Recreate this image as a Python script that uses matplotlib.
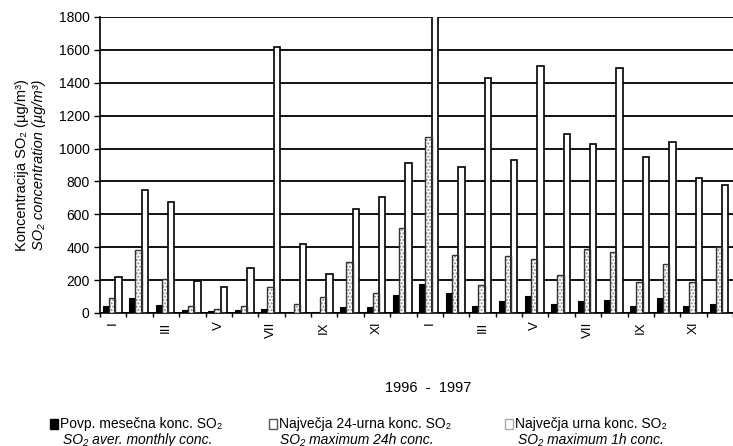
import matplotlib
matplotlib.use("Agg")
import matplotlib.pyplot as plt
from matplotlib.patches import Rectangle
import numpy as np

plt.rcParams['font.family'] = ['Liberation Sans', 'DejaVu Sans']

months = ['I', 'II', 'III', 'IV', 'V', 'VI', 'VII', 'VIII', 'IX', 'X', 'XI', 'XII'] * 2
tick_labels = [m if i % 2 == 0 else '' for i, m in enumerate(months)]
avg_monthly = [43, 93, 47, 16, 10, 16, 24, 6, 6, 38, 38, 108,
               177, 124, 43, 73, 106, 55, 70, 77, 41, 91, 41, 57]
max_24h = [89, 383, 205, 43, 26, 40, 160, 55, 95, 313, 120, 515,
           1070, 353, 170, 347, 331, 231, 390, 371, 190, 298, 190, 400]
max_1h = [221, 750, 675, 197, 160, 276, 1620, 418, 237, 630, 705, 915,
          1900, 888, 1430, 930, 1500, 1090, 1025, 1490, 950, 1040, 820, 780]
yticks = [0, 200, 400, 600, 800, 1000, 1200, 1400, 1600, 1800]

W, H = 733, 446
fig = plt.figure(figsize=(W / 100, H / 100), dpi=100)
ax = fig.add_axes([100 / W, (H - 313) / H, 1 - 100 / W, (313 - 17) / H])

x = np.arange(len(months))
bw = 0.24
ax.bar(x - 0.27, avg_monthly, bw, color='black', edgecolor='black', linewidth=0.8, zorder=3)
ax.bar(x - 0.04, max_24h, bw, color='white', edgecolor='#8a8a8a', hatch='.....', linewidth=0, zorder=3)
ax.bar(x - 0.04, max_24h, bw, facecolor='none', edgecolor='#333333', linewidth=1.0, zorder=3.5)
ax.bar(x + 0.2, max_1h, bw, color='white', edgecolor='black', linewidth=1.2, zorder=3)

ax.set_ylim(0, 1800)
ax.set_xlim(-0.5, (W - 100) / 26.5 - 0.5)
ax.set_yticks(yticks)
ax.set_yticklabels([str(v) for v in yticks], fontsize=10)
ax.yaxis.grid(True, color='black', linewidth=1.3, zorder=0)
ax.set_axisbelow(True)

ax.set_xticks(np.concatenate([[-0.5], x + 0.5]))
ax.set_xticklabels([])
ax.set_xticks(x, minor=True)
ax.set_xticklabels(tick_labels, minor=True, rotation=90, fontsize=9.5)
ax.tick_params(axis='x', which='minor', length=0, pad=6)
ax.tick_params(axis='x', which='major', length=3, width=1, direction='out')
ax.tick_params(axis='y', length=4, width=1, direction='out')

for s in ['top', 'right']:
    ax.spines[s].set_visible(False)
ax.spines['left'].set_linewidth(1.2)
ax.spines['bottom'].set_linewidth(1.2)

fig.text(22 / W, 1 - 165 / H, 'Koncentracija SO\u2082 (\u00b5g/m\u00b3)', rotation=90,
         ha='center', va='center', fontsize=10.5)
fig.text(39 / W, 1 - 165 / H, 'SO\u2082 concentration (\u00b5g/m\u00b3)', rotation=90,
         ha='center', va='center', fontsize=10.5, style='italic')

fig.text(428 / W, 1 - 388 / H, '1996  -  1997', ha='center', va='center', fontsize=10.5)

legend_items = [
    (50, 'black', None, 'Povp. mesečna konc. SO\u2082', 'SO\u2082 aver. monthly conc.', 138),
    (269, 'white', '#555555', 'Največja 24-urna konc. SO\u2082', 'SO\u2082 maximum 24h conc.', 357),
    (505, 'white', '#aaaaaa', 'Največja urna konc. SO\u2082', 'SO\u2082 maximum 1h conc.', 591),
]
for mx, fc, ec, l1, l2, cx in legend_items:
    r = Rectangle((mx / W, 1 - 429 / H), 8 / W, 10 / H, transform=fig.transFigure,
                  facecolor=fc, edgecolor=ec if ec else 'black', linewidth=1)
    fig.patches.append(r)
    fig.text((mx + 10) / W, 1 - 424 / H, l1, ha='left', va='center', fontsize=10)
    fig.text(cx / W, 1 - 440 / H, l2, ha='center', va='center', fontsize=10, style='italic')

fig.savefig('out.png', dpi=100)
